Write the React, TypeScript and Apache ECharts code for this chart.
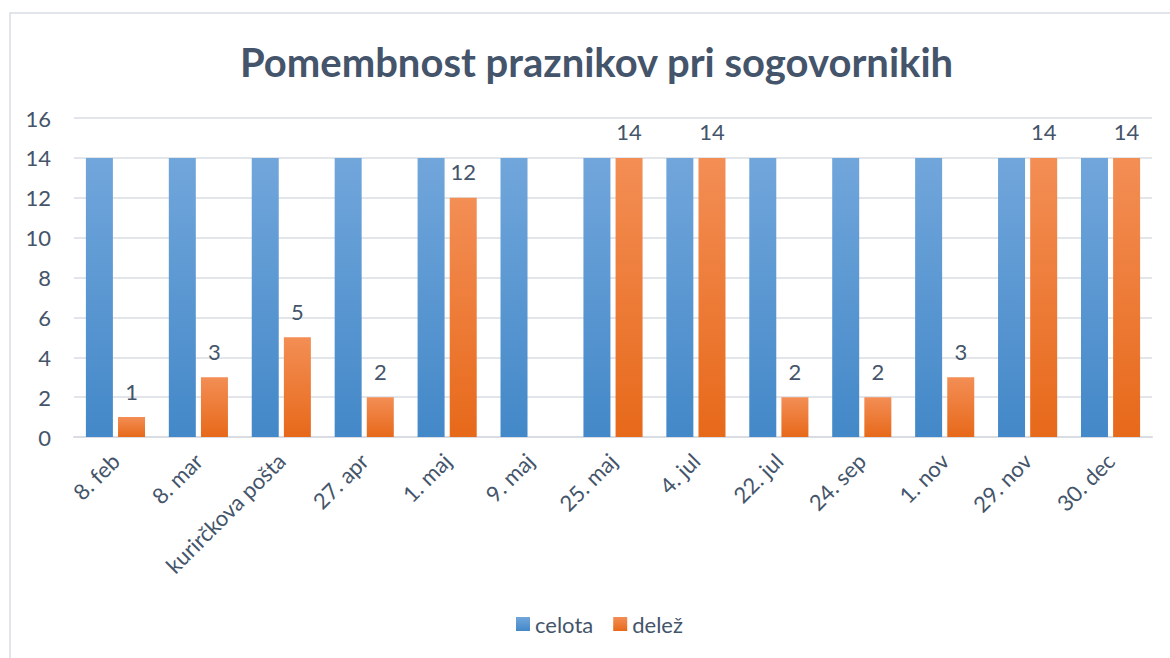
import React, { useEffect, useRef } from "react";
import * as echarts from "echarts";

const categories = [
  "8. feb",
  "8. mar",
  "kurirčkova pošta",
  "27. apr",
  "1. maj",
  "9. maj",
  "25. maj",
  "4. jul",
  "22. jul",
  "24. sep",
  "1. nov",
  "29. nov",
  "30. dec",
];
const celota = [14, 14, 14, 14, 14, 14, 14, 14, 14, 14, 14, 14, 14];
const delez: (number | null)[] = [1, 3, 5, 2, 12, null, 14, 14, 2, 2, 3, 14, 14];
const yTicks = { min: 0, max: 16, interval: 2 };

const TEXT = "#44546A";
const FONT = "Lato, 'Noto Sans', sans-serif";

export default function App() {
  const ref = useRef<HTMLDivElement>(null);
  useEffect(() => {
    document.body.style.margin = "0";
    if (!ref.current) return;
    const chart = echarts.init(ref.current, null, { renderer: "svg" });
    const blue = new echarts.graphic.LinearGradient(0, 0, 0, 1, [
      { offset: 0, color: "#71A6DB" },
      { offset: 1, color: "#4388C8" },
    ]);
    const orange = new echarts.graphic.LinearGradient(0, 0, 0, 1, [
      { offset: 0, color: "#F38E55" },
      { offset: 1, color: "#E7691A" },
    ]);
    chart.setOption({
      animation: false,
      backgroundColor: "#ffffff",
      textStyle: { fontFamily: FONT },
      graphic: [
        {
          type: "rect",
          shape: { x: 10, y: 13, width: 1200, height: 700 },
          style: { fill: "none", stroke: "#D9DDE3", lineWidth: 1.5 },
          silent: true,
          z: -1,
        },
      ],
      title: {
        text: "Pomembnost praznikov pri sogovornikih",
        left: 235,
        top: 37,
        textStyle: {
          fontFamily: FONT,
          fontSize: 40,
          fontWeight: "bold",
          color: TEXT,
        },
      },
      legend: {
        bottom: 18,
        left: 511,
        itemWidth: 14,
        itemHeight: 14,
        itemGap: 20,
        icon: "rect",
        textStyle: { fontFamily: FONT, fontSize: 22, color: TEXT },
        data: ["celota", "delež"],
      },
      grid: { left: 74, right: 18, top: 118, bottom: 221, containLabel: false },
      xAxis: {
        type: "category",
        data: categories,
        axisTick: { show: false },
        axisLine: { lineStyle: { color: "#D9DDE3", width: 2 } },
        axisLabel: {
          rotate: 45,
          interval: 0,
          margin: 20,
          fontFamily: FONT,
          fontSize: 22,
          color: TEXT,
        },
      },
      yAxis: {
        type: "value",
        min: yTicks.min,
        max: yTicks.max,
        interval: yTicks.interval,
        axisLine: { show: false },
        axisTick: { show: false },
        splitLine: { lineStyle: { color: "#E2E5EA", width: 2 } },
        axisLabel: {
          margin: 23,
          fontFamily: FONT,
          fontSize: 22,
          color: TEXT,
        },
      },
      series: [
        {
          name: "celota",
          type: "bar",
          data: celota,
          barWidth: 27,
          barGap: "19%",
          itemStyle: { color: blue },
        },
        {
          name: "delež",
          type: "bar",
          data: delez,
          barWidth: 27,
          barGap: "19%",
          itemStyle: { color: orange },
          label: {
            show: true,
            position: "top",
            distance: 15,
            fontFamily: FONT,
            fontSize: 22,
            color: TEXT,
            formatter: (p: any) => (p.value == null || p.value === 0 ? "" : String(p.value)),
          },
        },
      ],
    });
    return () => chart.dispose();
  }, []);
  return <div ref={ref} style={{ width: 1170, height: 658 }} />;
}
